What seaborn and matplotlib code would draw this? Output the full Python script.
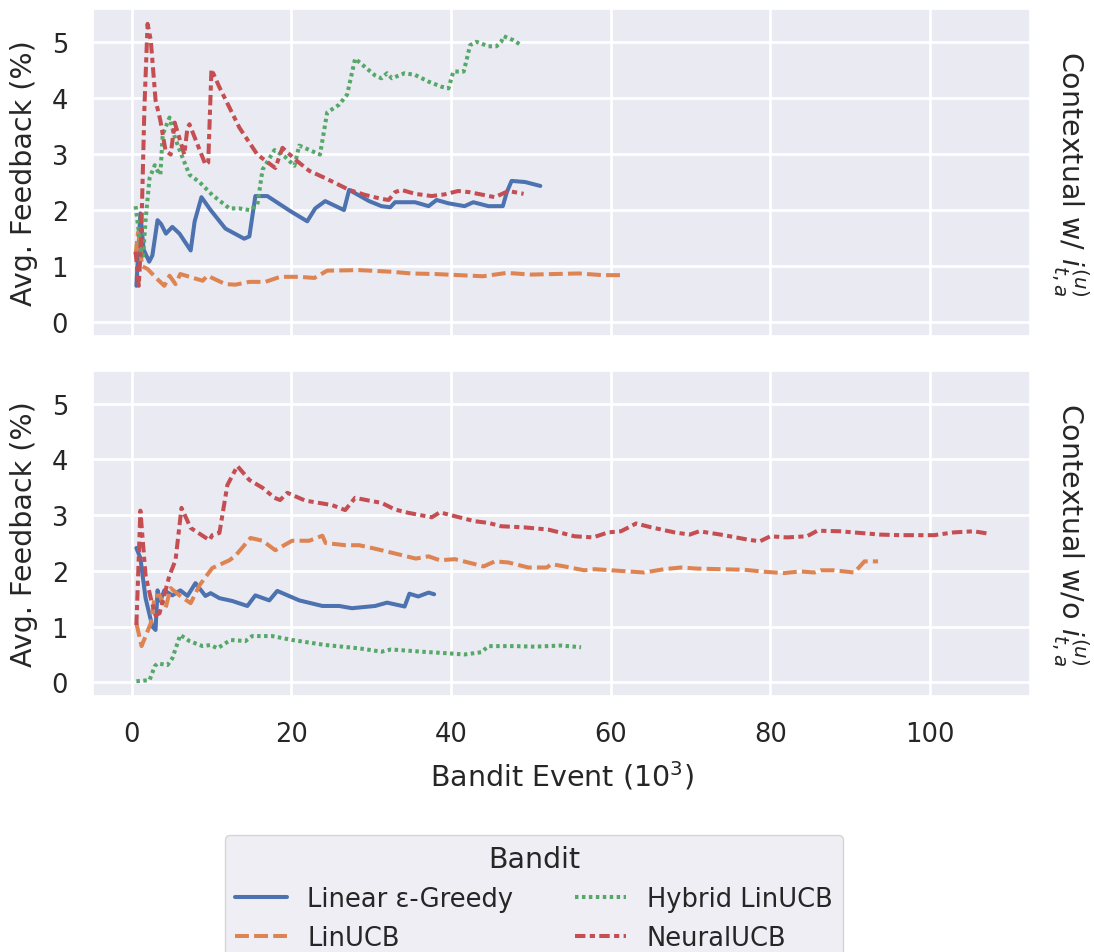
import numpy as np
import pandas as pd
import matplotlib
matplotlib.use("Agg")
import matplotlib.pyplot as plt
import seaborn as sns

bandits = ["Linear ε-Greedy", "LinUCB", "Hybrid LinUCB", "NeuralUCB"]
rows = ["Contextual w/ $i_{t,a}^{(u)}$", "Contextual w/o $i_{t,a}^{(u)}$"]
x_ticks = [0, 20, 40, 60, 80, 100]
y_ticks = [0, 1, 2, 3, 4, 5]

# ---- Top panel: Contextual w/ i ----
greedy_w_x = [0.6, 1.1, 1.5, 2.2, 2.6, 3.25, 3.7, 4.3, 5.1, 6.0, 7.4, 7.9, 8.75, 9.9, 11.75, 14.1, 14.75,
              15.5, 17, 19.9, 22, 23, 24.25, 26.6, 27.25, 29.75, 31.3, 32.4, 33, 35.5, 37.2, 38.2, 39.7,
              41.7, 42.8, 44.7, 46.5, 47, 47.6, 49.3, 51.2]
greedy_w_y = [0.65, 1.94, 1.3, 1.08, 1.19, 1.82, 1.75, 1.58, 1.7, 1.58, 1.28, 1.8, 2.23, 2.0, 1.67, 1.49, 1.53,
              2.25, 2.25, 1.98, 1.8, 2.03, 2.16, 2.0, 2.36, 2.16, 2.07, 2.05, 2.14, 2.14, 2.07, 2.18, 2.12,
              2.07, 2.14, 2.07, 2.07, 2.32, 2.52, 2.5, 2.43]

linucb_w_x = [0.5, 0.8, 1.0, 1.3, 2.0, 3.0, 4.1, 4.75, 5.5, 6.1, 7.5, 8.9, 9.5, 11.75, 13, 14.75, 16.75, 18.6,
              21, 22.9, 24.5, 28.5, 32.6, 35, 38, 41, 44, 47, 50, 53, 56, 59, 61.7]
linucb_w_y = [1.2, 1.6, 1.45, 1.0, 0.95, 0.8, 0.65, 0.83, 0.68, 0.86, 0.8, 0.74, 0.83, 0.68, 0.67, 0.72, 0.72, 0.81,
              0.81, 0.79, 0.92, 0.93, 0.9, 0.87, 0.86, 0.84, 0.82, 0.88, 0.85, 0.86, 0.87, 0.84, 0.84]

hybrid_w_x = [0.5, 1.0, 1.4, 1.8, 2.25, 2.9, 3.25, 3.6, 3.9, 4.75, 5.4, 6.2, 7.25, 8.5, 10.1, 12.25, 13.5, 14.75,
              15.75, 16.4, 17.9, 19.2, 20.4, 21, 23.6, 24.5, 26, 27, 28, 30.5, 31.3, 32, 32.6, 34.2, 35.5,
              37.2, 38.8, 39.7, 40.3, 41.6, 42, 42.4, 43.2, 44.7, 45.7, 46.3, 46.6, 47.8, 48.8]
hybrid_w_y = [2.07, 1.5, 1.13, 1.9, 2.57, 2.8, 2.7, 2.63, 3.35, 3.65, 3.3, 3.0, 2.63, 2.5, 2.27, 2.03, 2.03, 2.0,
              2.09, 2.72, 3.07, 2.95, 2.79, 3.15, 2.99, 3.74, 3.88, 4.06, 4.7, 4.4, 4.35, 4.44, 4.35, 4.44, 4.41,
              4.29, 4.2, 4.17, 4.47, 4.47, 4.7, 4.94, 5.0, 4.92, 4.92, 5.0, 5.1, 5.03, 4.94]

neural_w_x = [0.5, 0.9, 1.2, 1.6, 2.0, 2.4, 3.0, 3.6, 4.25, 4.9, 5.4, 6.6, 7.0, 7.25, 9.25, 9.6, 10.0, 11.0,
              13.5, 15.75, 18.0, 18.9, 20.5, 22.25, 24.25, 27.25, 29.25, 31.3, 32.2, 33, 33.8, 35.5, 37.6,
              39.2, 40.9, 42.3, 45.5, 47.2, 49.1]
neural_w_y = [1.26, 0.65, 1.5, 3.8, 5.32, 5.03, 3.96, 3.6, 3.06, 2.99, 3.56, 2.99, 3.47, 3.53, 2.81, 2.85, 4.51, 4.19,
              3.47, 2.99, 2.75, 3.11, 2.9, 2.7, 2.57, 2.36, 2.27, 2.2, 2.18, 2.32, 2.36, 2.29, 2.25,
              2.28, 2.34, 2.32, 2.23, 2.34, 2.29]

# ---- Bottom panel: Contextual w/o i ----
greedy_wo_x = [0.6, 1.1, 1.75, 2.6, 3.0, 3.25, 3.6, 4.1, 5.1, 6.1, 7.0, 8.0, 9.25, 9.9, 11.0, 12.6, 14.5, 15.5,
               17.25, 18.25, 21.0, 23.9, 26.0, 27.6, 30.5, 32.0, 34.2, 34.8, 35.9, 37.2, 37.9]
greedy_wo_y = [2.41, 2.23, 1.51, 1.0, 0.94, 1.65, 1.46, 1.65, 1.56, 1.65, 1.55, 1.78, 1.55, 1.6, 1.51, 1.46, 1.37, 1.56,
               1.47, 1.64, 1.47, 1.37, 1.37, 1.33, 1.37, 1.43, 1.36, 1.59, 1.54, 1.61, 1.58]

linucb_wo_x = [0.6, 1.25, 2.4, 2.9, 3.5, 4.25, 4.9, 6.0, 7.4, 8.5, 10.1, 12.25, 13.0, 14.9, 16.4, 18.0, 20.1, 22.25,
               23.9, 24.3, 26.75, 28.5, 30.1, 31.3, 33.6, 35.6, 37.2, 38.6, 40.5, 43.0, 44.1, 45.5, 47.2, 49.7,
               52.0, 52.6, 54.2, 56.7, 58.0, 60.1, 62.2, 64.2, 66.7, 68.8, 70.9, 73.8, 76.7, 79.6, 81.7, 83.8,
               85.5, 86.3, 88.0, 90.5, 91.1, 91.8, 93.5]
linucb_wo_y = [1.06, 0.65, 1.06, 1.55, 1.56, 1.33, 1.69, 1.56, 1.42, 1.74, 2.05, 2.19, 2.27, 2.59, 2.54, 2.37, 2.54, 2.54,
               2.63, 2.5, 2.46, 2.46, 2.41, 2.37, 2.29, 2.22, 2.26, 2.19, 2.21, 2.12, 2.08, 2.17, 2.15, 2.06,
               2.06, 2.12, 2.08, 2.01, 2.03, 2.01, 1.99, 1.97, 2.03, 2.06, 2.04, 2.03, 2.02, 1.98, 1.96, 1.99,
               1.97, 2.01, 2.01, 1.97, 2.06, 2.17, 2.17]

hybrid_wo_x = [0.6, 2.25, 2.9, 3.25, 4.5, 5.1, 6.1, 7.25, 8.9, 9.9, 10.75, 12.4, 14.25, 15.1, 17.6, 20.1, 24.25,
               28.5, 31.3, 32.5, 36.3, 39.7, 41.7, 43.8, 44.7, 48.0, 50.5, 53.8, 56.3]
hybrid_wo_y = [0.02, 0.04, 0.29, 0.34, 0.31, 0.43, 0.85, 0.74, 0.65, 0.67, 0.61, 0.76, 0.74, 0.83, 0.83, 0.76, 0.67,
               0.61, 0.55, 0.59, 0.55, 0.52, 0.5, 0.54, 0.65, 0.65, 0.64, 0.66, 0.63]

neural_wo_x = [0.6, 1.1, 1.4, 1.75, 2.4, 3.0, 3.5, 3.9, 4.75, 5.5, 6.25, 7.4, 9.75, 10.1, 11.0, 12.0, 13.25, 14.75,
               16.4, 17.9, 18.6, 19.5, 21.75, 25.1, 26.75, 28.0, 29.75, 31.3, 33.0, 34.7, 37.6, 38.6, 40.5,
               43.0, 44.7, 46.3, 49.2, 52.2, 55.5, 57.8, 59.7, 61.3, 63.2, 65.1, 68.0, 69.9, 71.1, 73.8, 77.2,
               78.7, 80.0, 82.1, 84.6, 85.9, 88.7, 90.4, 93.8, 96.3, 100.5, 103.0, 105.5, 107.2]
neural_wo_y = [1.03, 3.08, 2.54, 1.92, 1.51, 1.2, 1.24, 1.46, 1.92, 2.19, 3.13, 2.77, 2.55, 2.64, 2.68, 3.54, 3.88, 3.63,
               3.49, 3.31, 3.27, 3.4, 3.26, 3.18, 3.09, 3.31, 3.26, 3.22, 3.1, 3.04, 2.96, 3.05, 2.98,
               2.89, 2.86, 2.8, 2.78, 2.74, 2.62, 2.6, 2.69, 2.71, 2.85, 2.78, 2.69, 2.65, 2.71, 2.65, 2.56,
               2.53, 2.62, 2.6, 2.62, 2.72, 2.71, 2.69, 2.65, 2.64, 2.64, 2.69, 2.71, 2.67]

panels = [
    [(greedy_w_x, greedy_w_y), (linucb_w_x, linucb_w_y), (hybrid_w_x, hybrid_w_y), (neural_w_x, neural_w_y)],
    [(greedy_wo_x, greedy_wo_y), (linucb_wo_x, linucb_wo_y), (hybrid_wo_x, hybrid_wo_y), (neural_wo_x, neural_wo_y)],
]

LW = 2.9
sc = 2.5 / LW
dash_styles = ["", (4 * sc, 1.5 * sc), (1 * sc, 1 * sc), (3 * sc, 1.25 * sc, 1.5 * sc, 1.25 * sc)]

sns.set_theme(style="darkgrid", rc={"grid.linewidth": 1.9, "lines.linewidth": LW})
FS = 18.5
FL = 20.5
plt.rcParams["font.family"] = ["DejaVu Sans"]

W, H = 1094, 953
fig = plt.figure(figsize=(W / 100, H / 100), dpi=100)
ax_top = fig.add_axes([93 / W, 1 - 337 / H, 937 / W, 327 / H])
ax_bot = fig.add_axes([93 / W, 1 - 697 / H, 937 / W, 325 / H], sharex=ax_top, sharey=ax_top)
axes = [ax_top, ax_bot]

for ax, series, title in zip(axes, panels, rows):
    frames = []
    for name, (xs, ys) in zip(bandits, series):
        frames.append(pd.DataFrame({"x": xs, "y": ys, "Bandit": name}))
    df = pd.concat(frames, ignore_index=True)
    sns.lineplot(data=df, x="x", y="y", hue="Bandit", style="Bandit",
                 hue_order=bandits, style_order=bandits, estimator=None,
                 dashes=dash_styles, linewidth=LW, ax=ax, legend=True)
    ax.set_ylabel("Avg. Feedback (%)", fontsize=FL, labelpad=10)
    ax.set_xlabel("")
    ax.set_yticks(y_ticks)
    ax.set_xticks(x_ticks)
    ax.tick_params(labelsize=FS, length=0, pad=18)
    ax.annotate(title, xy=(1.02, 0.5), xycoords="axes fraction", rotation=270,
                va="center", ha="left", fontsize=FL)

handles, labels = ax_top.get_legend_handles_labels()
for ax in axes:
    ax.get_legend().remove()
plt.setp(ax_top.get_xticklabels(), visible=False)
ax_bot.set_xlabel("Bandit Event ($10^3$)", fontsize=FL, labelpad=8)

leg = fig.legend(handles[-4:], labels[-4:], title="Bandit", ncol=2, fontsize=FS, title_fontsize=FL,
                 loc="upper center", bbox_to_anchor=(534 / W, 1 - 823 / H), frameon=True,
                 handlelength=2.0, columnspacing=2.4)

fig.savefig("out.png", dpi=100)
